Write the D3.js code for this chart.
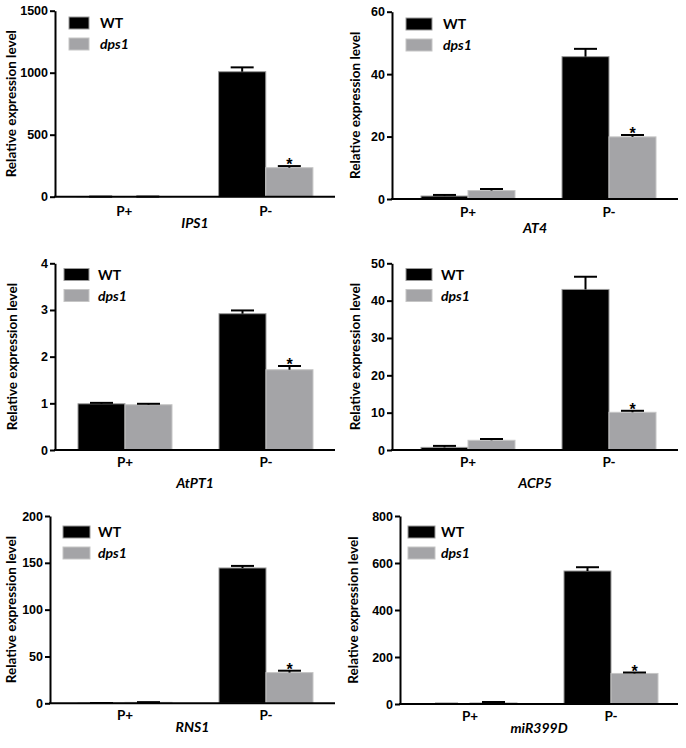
<!DOCTYPE html>
<html>
<head>
<meta charset="utf-8">
<script src="https://cdn.jsdelivr.net/npm/d3@7"></script>
<style>
  body { margin: 0; background: #fff; }
  svg { display: block; }
  .tick text { font-family: "Liberation Sans", Arial, sans-serif; font-weight: bold; font-size: 12.5px; fill: #000; }
  .lbl { font-family: Lato, "Open Sans", sans-serif; font-weight: bold; fill: #000; }
  .star { font-family: "Liberation Sans", Arial, sans-serif; font-weight: bold; fill: #000; }
</style>
</head>
<body>
<svg width="686" height="748"></svg>
<script>
// genes shown in each panel, in reading order
var genes = ["IPS1", "AT4", "AtPT1", "ACP5", "RNS1", "miR399D"];
var groups = ["P+", "P-"];
var lines = ["WT", "dps1"];

// mean values per panel: [P+, P-]
var wtMean  = [[0.5, 1008], [0.95, 45.6], [0.99, 2.92], [0.7, 43.0], [0.2, 144.5], [0.5, 566]];
var wtSem   = [[0.2, 35],   [0.35, 2.5],  [0.02, 0.07], [0.4, 3.4],  [0.1, 2.2],   [0.5, 16]];
var dpsMean = [[0.8, 234],  [2.7, 19.9],  [0.97, 1.72], [2.6, 10.1], [1.05, 32.8], [5.5, 130]];
var dpsSem  = [[0.2, 13],   [0.5, 0.6],   [0.02, 0.08], [0.35, 0.4], [0.2, 2.0],   [3, 4]];

var yMax = [1500, 60, 4, 50, 200, 800];
var yTicks = [
  [0, 500, 1000, 1500],
  [0, 20, 40, 60],
  [0, 1, 2, 3, 4],
  [0, 10, 20, 30, 40, 50],
  [0, 50, 100, 150, 200],
  [0, 200, 400, 600, 800]
];

// where each panel sits on the page
var layout = [
  {x0: 55,  x1: 335, c1: 124, c2: 266, top: 10.7,  bot: 196.7, lab: 11,  sw: [69, 89],   tx: 100, ly: 23,  cat: 19, gen: 31},
  {x0: 392, x1: 678, c1: 468, c2: 609, top: 11.7,  bot: 199,   lab: 355, sw: [406, 432], tx: 443, ly: 24,  cat: 18, gen: 34},
  {x0: 55,  x1: 335, c1: 125, c2: 266, top: 263.3, bot: 450,   lab: 12,  sw: [64, 89],   tx: 98,  ly: 274.5, cat: 17, gen: 38},
  {x0: 392, x1: 678, c1: 468, c2: 609, top: 263.3, bot: 450,   lab: 355, sw: [406, 432], tx: 441, ly: 274.5, cat: 17, gen: 38},
  {x0: 50,  x1: 335, c1: 125, c2: 266, top: 516,   bot: 703.3, lab: 11,  sw: [63, 90],   tx: 98,  ly: 532, cat: 17, gen: 29},
  {x0: 400, x1: 678, c1: 470, c2: 611, top: 516,   bot: 704,   lab: 353, sw: [408, 435], tx: 441, ly: 532, cat: 17, gen: 29}
];

var colors = {WT: "#000000", dps1: "#a4a4a7"};
var strokes = {WT: "#9a9a9a", dps1: "#c6c6c6"};

var svg = d3.select("svg");

genes.forEach(function (gene, p) {
  var L = layout[p];
  var g = svg.append("g");

  var yScale = d3.scaleLinear().domain([0, yMax[p]]).range([L.bot, L.top]);

  var xScale = d3.scaleBand()
    .domain(groups)
    .range([L.c1 - 70.5, L.c2 + 70.5])
    .paddingInner(1 / 3)
    .paddingOuter(1 / 6);

  var xInner = d3.scaleBand().domain(lines).range([0, xScale.bandwidth()]);

  var rows = [];
  groups.forEach(function (grp, i) {
    rows.push({grp: grp, line: "WT", v: wtMean[p][i], e: wtSem[p][i]});
    rows.push({grp: grp, line: "dps1", v: dpsMean[p][i], e: dpsSem[p][i]});
  });

  // bars
  g.selectAll("rect.bar")
    .data(rows)
    .enter()
    .append("rect")
    .attr("class", "bar")
    .attr("x", function (d) { return xScale(d.grp) + xInner(d.line); })
    .attr("y", function (d) { return yScale(d.v); })
    .attr("width", xInner.bandwidth())
    .attr("height", function (d) { return L.bot - yScale(d.v); })
    .style("fill", function (d) { return colors[d.line]; })
    .style("stroke", function (d) { return strokes[d.line]; })
    .style("stroke-width", 1);

  // upper error bars
  var eb = g.selectAll("g.err")
    .data(rows)
    .enter()
    .append("g")
    .attr("class", "err")
    .attr("transform", function (d) {
      return "translate(" + (xScale(d.grp) + xInner(d.line) + xInner.bandwidth() / 2) + ",0)";
    });
  eb.append("line")
    .attr("x1", 0).attr("x2", 0)
    .attr("y1", function (d) { return yScale(d.v); })
    .attr("y2", function (d) { return yScale(d.v + d.e); })
    .style("stroke", "#000").style("stroke-width", 2);
  eb.append("line")
    .attr("x1", -11.5).attr("x2", 11.5)
    .attr("y1", function (d) { return yScale(d.v + d.e); })
    .attr("y2", function (d) { return yScale(d.v + d.e); })
    .style("stroke", "#000").style("stroke-width", 2);

  // significance mark on dps1 under P-
  var sig = rows[3];
  g.append("text")
    .attr("class", "star")
    .attr("x", xScale(sig.grp) + xInner(sig.line) + xInner.bandwidth() / 2)
    .attr("y", yScale(sig.v + sig.e) + 4)
    .attr("text-anchor", "middle")
    .style("font-size", "16px")
    .text("*");

  // y axis
  var yAxis = d3.axisLeft(yScale).tickValues(yTicks[p]).tickFormat(d3.format("d"))
    .tickSize(5).tickSizeOuter(0).tickPadding(2);
  var ya = g.append("g")
    .attr("transform", "translate(" + L.x0 + ",0)")
    .call(yAxis);
  ya.select(".domain").style("stroke-width", 2);
  ya.selectAll(".tick line").style("stroke-width", 2);

  // x axis
  g.append("line")
    .attr("x1", L.x0 - 1).attr("x2", L.x1)
    .attr("y1", L.bot).attr("y2", L.bot)
    .style("stroke", "#000").style("stroke-width", 2);

  g.selectAll("text.cat")
    .data(groups)
    .enter()
    .append("text")
    .attr("class", "lbl cat")
    .attr("x", function (d) { return xScale(d) + xScale.bandwidth() / 2; })
    .attr("y", L.bot + L.cat)
    .attr("text-anchor", "middle")
    .style("font-size", "13.5px")
    .text(function (d) { return d; });

  g.append("text")
    .attr("class", "lbl")
    .attr("x", (L.x0 + L.x1) / 2)
    .attr("y", L.bot + L.gen)
    .attr("text-anchor", "middle")
    .style("font-size", "14px")
    .style("font-style", "italic")
    .text(gene);

  g.append("text")
    .attr("class", "lbl")
    .attr("text-anchor", "middle")
    .attr("transform", "translate(" + (L.lab + 5) + "," + ((L.top + L.bot) / 2) + ")rotate(-90)")
    .style("font-size", "13.5px")
    .text("Relative expression level");

  // legend
  lines.forEach(function (name, i) {
    var cy = L.ly + i * 21;
    g.append("rect")
      .attr("x", L.sw[0]).attr("y", cy - 6)
      .attr("width", L.sw[1] - L.sw[0]).attr("height", 12)
      .style("fill", colors[name])
      .style("stroke", strokes[name]).style("stroke-width", 1);
    g.append("text")
      .attr("class", "lbl")
      .attr("x", L.tx).attr("y", cy + 5)
      .style("font-size", "14px")
      .style("font-style", name === "dps1" ? "italic" : "normal")
      .text(name);
  });
});
</script>
</body>
</html>
